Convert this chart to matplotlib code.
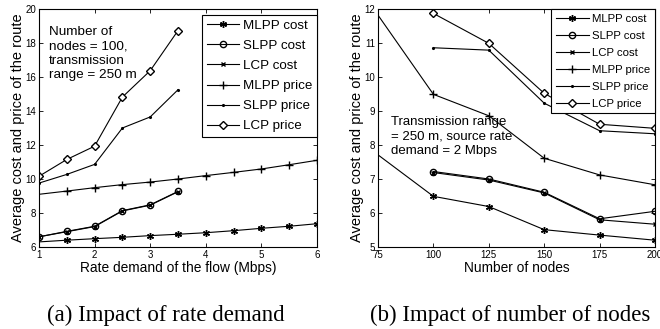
import matplotlib
matplotlib.use("Agg")
import matplotlib.pyplot as plt

plt.rcParams['font.family'] = ['Liberation Sans', 'DejaVu Sans']

# (a) rate demand of the flow (Mbps)
rate = [1, 1.5, 2, 2.5, 3, 3.5, 4, 4.5, 5, 5.5, 6]
rate_short = [1, 1.5, 2, 2.5, 3, 3.5]
a_mlpp_cost = [6.3, 6.4, 6.49, 6.57, 6.67, 6.75, 6.84, 6.96, 7.1, 7.22, 7.37]
a_slpp_cost = [6.6, 6.92, 7.22, 8.14, 8.48, 9.27]
a_lcp_cost = [6.6, 6.9, 7.2, 8.12, 8.46, 9.25]
a_mlpp_price = [9.1, 9.29, 9.49, 9.67, 9.82, 10.0, 10.2, 10.39, 10.59, 10.84, 11.1]
a_slpp_price = [9.76, 10.27, 10.86, 13.0, 13.65, 15.25]
a_lcp_price = [10.16, 11.15, 11.93, 14.82, 16.37, 18.73]

# (b) number of nodes
nodes = [75, 100, 125, 150, 175, 200]
nodes_short = [100, 125, 150, 175, 200]
b_mlpp_cost = [7.71, 6.49, 6.19, 5.51, 5.35, 5.2]
b_slpp_cost = [7.22, 7.0, 6.61, 5.83, 6.05]
b_lcp_cost = [7.19, 6.97, 6.59, 5.8, 5.67]
b_mlpp_price = [11.82, 9.49, 8.86, 7.61, 7.12, 6.83]
b_slpp_price = [10.86, 10.79, 9.23, 8.42, 8.33]
b_lcp_price = [11.87, 10.99, 9.52, 8.61, 8.49]

labels = ["MLPP cost", "SLPP cost", "LCP cost", "MLPP price", "SLPP price", "LCP price"]

fig = plt.figure(figsize=(6.6, 3.29), dpi=100)
ax1 = fig.add_axes([39/660, 82/329, 278/660, 238/329])
ax2 = fig.add_axes([378/660, 82/329, 277/660, 238/329])

asterisk = (6, 2, 0)
lw = 0.8
k = "black"

def draw(ax, xl, xs, mc, sc, lc, mp, sp, lp):
    ax.plot(xl, mc, color=k, lw=lw, marker=asterisk, ms=5, markevery=slice(1, None), label=labels[0])
    ax.plot(xs, sc, color=k, lw=lw, marker="o", ms=4.5, mfc="none", label=labels[1])
    ax.plot(xs, lc, color=k, lw=lw, marker="x", ms=3.5, label=labels[2])
    ax.plot(xl, mp, color=k, lw=lw, marker="+", ms=6, markevery=slice(1, None), label=labels[3])
    ax.plot(xs, sp, color=k, lw=lw, marker=".", ms=2.5, label=labels[4])
    ax.plot(xs, lp, color=k, lw=lw, marker="D", ms=4, mfc="white", label=labels[5])

draw(ax1, rate, rate_short, a_mlpp_cost, a_slpp_cost, a_lcp_cost,
     a_mlpp_price, a_slpp_price, a_lcp_price)
draw(ax2, nodes, nodes_short, b_mlpp_cost, b_slpp_cost, b_lcp_cost,
     b_mlpp_price, b_slpp_price, b_lcp_price)

# axes setup, matlab style ticks
ax1.set_xlim(1, 6)
ax1.set_ylim(6, 20)
ax1.set_xticks([1, 2, 3, 4, 5, 6])
ax1.set_yticks(range(6, 21, 2))
ax2.set_xlim(75, 200)
ax2.set_ylim(5, 12)
ax2.set_xticks(nodes)
ax2.set_yticks(range(5, 13))

for ax in (ax1, ax2):
    ax.tick_params(direction="in", length=3, width=0.6, labelsize=7, pad=2,
                   top=True, right=True)
    for s in ax.spines.values():
        s.set_linewidth(0.8)
    ax.set_ylabel("Average cost and price of the route", fontsize=10.5, labelpad=0)

ax1.set_xlabel("Rate demand of the flow (Mbps)", fontsize=9.9, labelpad=1)
ax2.set_xlabel("Number of nodes", fontsize=9.9, labelpad=1)

leg1 = ax1.legend(loc="upper right", bbox_to_anchor=(1, 1 - 6/238), borderaxespad=0,
                  fontsize=9.6, labelspacing=0.58, handlelength=2.4, handletextpad=0.3,
                  borderpad=0.35, fancybox=False, edgecolor=k, framealpha=1)
leg1.get_frame().set_linewidth(0.8)
leg2 = ax2.legend(loc="upper right", bbox_to_anchor=(1, 1), borderaxespad=0,
                  fontsize=8.2, labelspacing=0.62, handlelength=2.9, handletextpad=0.3,
                  borderpad=0.4, fancybox=False, edgecolor=k, framealpha=1)
leg2.get_frame().set_linewidth(0.8)

ax1.text(1.18, 18.98, "Number of\nnodes = 100,\ntransmission\nrange = 250 m",
         fontsize=9.7, va="top", ha="left", linespacing=1.25)
ax2.text(81, 8.86, "Transmission range\n= 250 m, source rate\ndemand = 2 Mbps",
         fontsize=9.5, va="top", ha="left", linespacing=1.27)

# captions
fig.text(166/660, 1 - 315/329, "(a) Impact of rate demand", family="Liberation Serif",
         fontsize=16.5, ha="center", va="center")
fig.text(510/660, 1 - 315/329, "(b) Impact of number of nodes", family="Liberation Serif",
         fontsize=16.5, ha="center", va="center")

fig.savefig("out.png", dpi=100)
